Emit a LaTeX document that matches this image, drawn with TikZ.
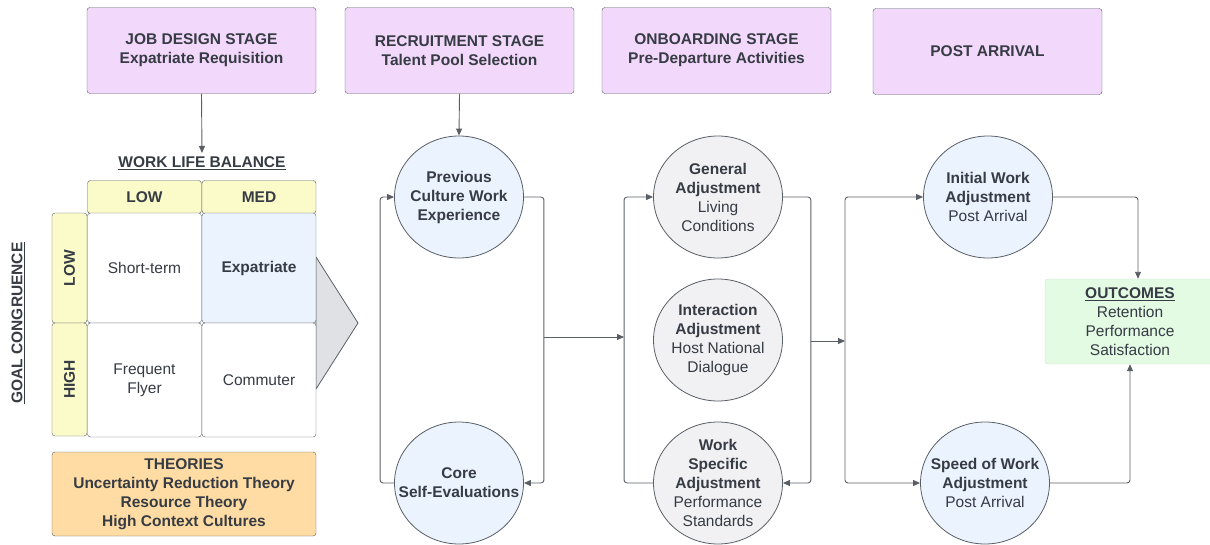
\documentclass[tikz,border=0pt]{standalone}
\usepackage{fontspec}
\setmainfont{Liberation Sans}
\usetikzlibrary{positioning,arrows.meta,shapes.geometric}

\definecolor{inkgray}{HTML}{363B44}
\definecolor{linegray}{HTML}{5A5F66}
\definecolor{stagepurple}{HTML}{F2D8FA}
\definecolor{headyellow}{HTML}{FBFBC9}
\definecolor{paleblue}{HTML}{EBF3FF}
\definecolor{palegray}{HTML}{F1F1F3}
\definecolor{theoryorange}{HTML}{FFDCA3}
\definecolor{palegreen}{HTML}{E3FAE3}
\definecolor{wedgegray}{HTML}{DFE1E5}

\tikzset{
  >={Triangle[length=7pt,width=6pt]},
  every node/.style={text=inkgray, font=\fontsize{15.5}{19}\selectfont},
  conn/.style     ={draw=linegray, line width=0.9pt, rounded corners=3pt},
  stagebox/.style ={draw=linegray, fill=stagepurple, rounded corners=3pt,
                    minimum width=229pt, minimum height=86pt, align=center,
                    font=\fontsize{15.5}{19}\selectfont\bfseries},
  cell/.style     ={draw=linegray, fill=white, rounded corners=3pt,
                    minimum width=114pt, align=center, inner sep=0pt},
  headcell/.style ={draw=linegray, fill=headyellow, rounded corners=3pt,
                    font=\fontsize{15.5}{19}\selectfont\bfseries, inner sep=0pt},
  factor/.style   ={ellipse, draw=linegray, line width=0.8pt, fill=paleblue,
                    minimum width=129pt, minimum height=122pt,
                    inner xsep=-18pt, inner ysep=-10pt, align=center},
  adjust/.style   ={factor, fill=palegray},
}

\begin{document}
\begin{tikzpicture}[x=1pt, y=-1pt]
  \useasboundingbox (0,0) rectangle (1210,544);

  %--- stage headers ---
  \node[stagebox] (jobdesign)  at (201.5,50.5) {JOB DESIGN STAGE\\Expatriate Requisition};
  \node[stagebox] (recruit)    at (459.5,50.5) {RECRUITMENT STAGE\\Talent Pool Selection};
  \node[stagebox] (onboard)    at (716.5,50.5) {ONBOARDING STAGE\\Pre-Departure Activities};
  \node[stagebox] (postarrive) at (987.5,51.5) {POST ARRIVAL};

  %--- work life balance / goal congruence grid ---
  \node[font=\fontsize{15.5}{19}\selectfont\bfseries] (wlb) at (202,163) {\underline{WORK LIFE BALANCE}};
  \node[font=\fontsize{15.5}{19}\selectfont\bfseries, rotate=90] (goal) at (18,323) {\underline{GOAL CONGRUENCE}};

  % little wedge pointing at the recruitment stage
  \filldraw[fill=wedgegray, draw=linegray, line width=0.8pt]
    (316,257) -- (358,323) -- (316,389) -- cycle;

  \node[headcell, minimum width=114pt, minimum height=33pt] (collow) at (144.5,197) {LOW};
  \node[headcell, minimum width=114pt, minimum height=33pt] (colmed) at (259,197) {MED};
  \node[headcell, rotate=90, minimum width=110pt, minimum height=35pt] (rowlow) at (69.5,268) {LOW};
  \node[headcell, rotate=90, minimum width=113pt, minimum height=35pt] (rowhigh) at (69.5,379.5) {HIGH};

  \node[cell, minimum height=110pt] (shortterm)  at (144.5,268) {Short-term};
  \node[cell, minimum height=110pt, fill=paleblue,
        font=\fontsize{15.5}{19}\selectfont\bfseries] (expat) at (259,268) {Expatriate};
  \node[cell, minimum height=114pt] (flyer)    at (144.5,380) {Frequent\\Flyer};
  \node[cell, minimum height=114pt] (commuter) at (259,380) {Commuter};

  \node[draw=linegray, fill=theoryorange, rounded corners=3pt, minimum width=264pt,
        minimum height=84pt, align=center, font=\fontsize{15.5}{19}\selectfont\bfseries]
    (theories) at (184,494) {THEORIES\\Uncertainty Reduction Theory\\Resource Theory\\High Context Cultures};

  %--- recruitment factors ---
  \node[factor] (previous) at (459,197) {\textbf{Previous}\\\textbf{Culture Work}\\\textbf{Experience}};
  \node[factor] (coreself) at (459,483) {\textbf{Core}\\\textbf{Self-Evaluations}};

  %--- onboarding adjustments ---
  \node[adjust] (general)     at (718,197) {\textbf{General}\\\textbf{Adjustment}\\Living\\Conditions};
  \node[adjust] (interaction) at (718,340) {\textbf{Interaction}\\\textbf{Adjustment}\\Host National\\Dialogue};
  \node[adjust] (workspec)    at (718,483) {\textbf{Work}\\\textbf{Specific}\\\textbf{Adjustment}\\Performance\\Standards};

  %--- post arrival ---
  \node[factor] (initial) at (988,197) {\textbf{Initial Work}\\\textbf{Adjustment}\\Post Arrival};
  \node[factor] (speed)   at (985,483) {\textbf{Speed of Work}\\\textbf{Adjustment}\\Post Arrival};

  \node[fill=palegreen, draw=palegreen!80!gray, rounded corners=3pt, minimum width=170pt,
        minimum height=85pt, align=center] (outcomes) at (1130,321.5)
    {\textbf{\underline{OUTCOMES}}\\Retention\\Performance\\Satisfaction};

  %--- junction points ---
  \coordinate (recjoin)  at (544,337);
  \coordinate (onbjoin)  at (624,337);
  \coordinate (adjjoin)  at (811,341);
  \coordinate (postjoin) at (845,341);

  %--- connectors ---
  \draw[conn, ->] (jobdesign.south) -- (wlb.north);
  \draw[conn, ->] (recruit.south) -- (previous.north);

  \draw[conn, ->] (previous.east) -- ++(20,0) |- (coreself.east);
  \draw[conn, ->] (coreself.west) -- ++(-14,0) |- (previous.west);
  \draw[conn, ->] (recjoin) -- (onbjoin);

  \draw[conn, ->] (workspec.west) -- ++(-29,0) |- (general.west);
  \draw[conn, ->] (general.east) -- ++(28,0) |- (workspec.east);
  \draw[conn, ->] (adjjoin) -- (postjoin);

  \draw[conn, ->] (postjoin) |- (initial.west);
  \draw[conn, ->] (postjoin) |- (speed.west);

  \draw[conn, ->] (initial.east) -| ([xshift=8pt]outcomes.north);
  \draw[conn, ->] (speed.east) -| (outcomes.south);
\end{tikzpicture}
\end{document}
